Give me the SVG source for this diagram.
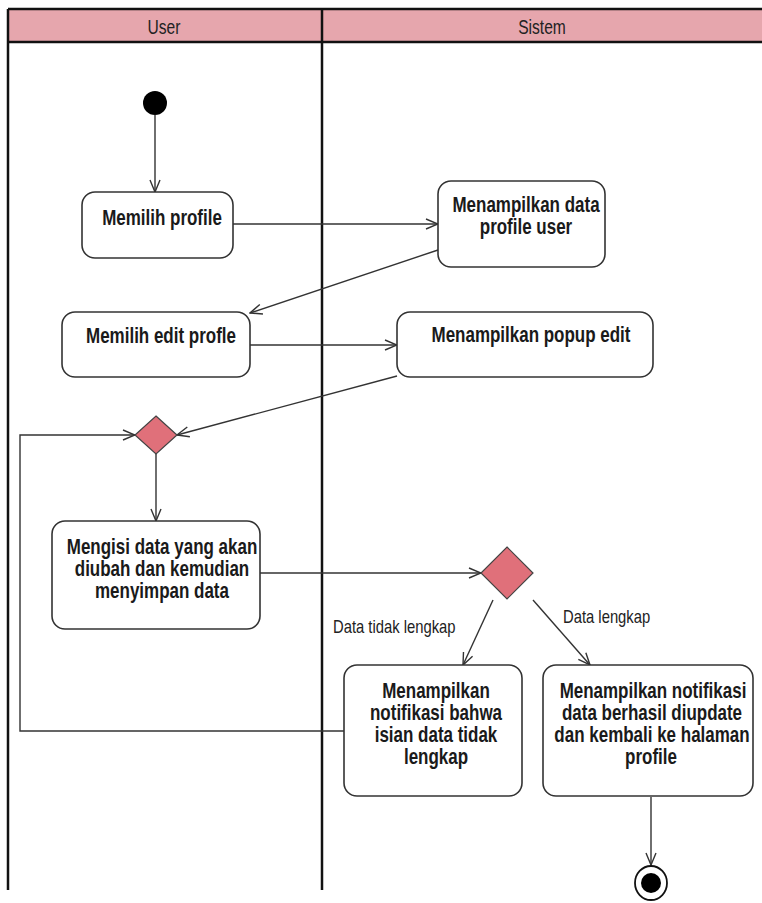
<svg xmlns="http://www.w3.org/2000/svg" width="762" height="903" viewBox="0 0 762 903">
  <style>
    .lane { stroke: #111; stroke-width: 2.5; fill: none; }
    .head { fill: #e6a6ad; }
    .hdtxt { font-family: "Liberation Sans", Arial, sans-serif; font-size: 20px; fill: #222; text-anchor: middle; }
    .act { fill: #fff; stroke: #333; stroke-width: 1.6; }
    .txt { font-family: "Liberation Sans", Arial, sans-serif; font-size: 21.5px; font-weight: bold; fill: #1a1a1a; text-anchor: middle; }
    .lbl { font-family: "Liberation Sans", Arial, sans-serif; font-size: 18.5px; fill: #222; }
    .dec { fill: #e0707a; stroke: #444; stroke-width: 1.2; }
    .flow { fill: none; stroke: #333; stroke-width: 1.4; }
  </style>
  <defs>
    <marker id="open" viewBox="0 0 14 12" refX="13" refY="6" markerWidth="14" markerHeight="12" markerUnits="userSpaceOnUse" orient="auto">
      <path d="M1,1 L13,6 L1,11" fill="none" stroke="#333" stroke-width="1.4"/>
    </marker>
  </defs>

  <rect width="762" height="903" fill="#fff"/>

  <!-- swimlanes -->
  <g id="swimlanes">
    <rect class="head" x="8" y="9" width="754" height="33"/>
    <line class="lane" x1="8" y1="9" x2="762" y2="9"/>
    <line class="lane" x1="8" y1="42" x2="762" y2="42"/>
    <line class="lane" x1="8" y1="9" x2="8" y2="890"/>
    <line class="lane" x1="322" y1="9" x2="322" y2="890"/>
    <text class="hdtxt" transform="translate(164 34) scale(0.78 1)">User</text>
    <text class="hdtxt" transform="translate(542 34) scale(0.78 1)">Sistem</text>
  </g>

  <!-- connectors -->
  <g id="connectors">
    <line class="flow" x1="155" y1="115" x2="155" y2="192" marker-end="url(#open)"/>
    <line class="flow" x1="233" y1="224" x2="438" y2="224" marker-end="url(#open)"/>
    <line class="flow" x1="438" y1="250" x2="250" y2="313" marker-end="url(#open)"/>
    <line class="flow" x1="250" y1="345" x2="397" y2="345" marker-end="url(#open)"/>
    <line class="flow" x1="397" y1="376" x2="177" y2="435" marker-end="url(#open)"/>
    <line class="flow" x1="156" y1="454" x2="156" y2="521" marker-end="url(#open)"/>
    <polyline class="flow" points="344,731 20,731 20,435 135,435" marker-end="url(#open)"/>
    <line class="flow" x1="260" y1="573" x2="481" y2="573" marker-end="url(#open)"/>
    <line class="flow" x1="493" y1="600" x2="463" y2="665" marker-end="url(#open)"/>
    <line class="flow" x1="533" y1="600" x2="590" y2="665" marker-end="url(#open)"/>
    <line class="flow" x1="651" y1="797" x2="651" y2="865" marker-end="url(#open)"/>
    <text class="lbl" transform="translate(333 633) scale(0.8 1)">Data tidak lengkap</text>
    <text class="lbl" transform="translate(563 623) scale(0.8 1)">Data lengkap</text>
  </g>

  <!-- nodes -->
  <g id="start">
    <circle cx="155" cy="103" r="12" fill="#000"/>
  </g>

  <g id="memilih-profile">
    <rect class="act" x="82" y="192" width="151" height="66" rx="13"/>
    <text class="txt" transform="translate(162 225) scale(0.79 1)">Memilih profile</text>
  </g>

  <g id="tampil-data-profile">
    <rect class="act" x="438" y="181" width="167" height="86" rx="13"/>
    <text class="txt" transform="translate(526 212) scale(0.79 1)">Menampilkan data</text>
    <text class="txt" transform="translate(526 234) scale(0.79 1)">profile user</text>
  </g>

  <g id="memilih-edit">
    <rect class="act" x="62" y="312" width="188" height="65" rx="13"/>
    <text class="txt" transform="translate(161 343) scale(0.79 1)">Memilih edit profle</text>
  </g>

  <g id="tampil-popup">
    <rect class="act" x="397" y="312" width="256" height="65" rx="13"/>
    <text class="txt" transform="translate(531 342) scale(0.79 1)">Menampilkan popup edit</text>
  </g>

  <g id="merge">
    <polygon class="dec" points="156,416 177,435 156,454 135,435"/>
  </g>

  <g id="mengisi-data">
    <rect class="act" x="52" y="521" width="208" height="108" rx="13"/>
    <text class="txt" transform="translate(162 554) scale(0.79 1)">Mengisi data yang akan</text>
    <text class="txt" transform="translate(162 576) scale(0.79 1)">diubah dan kemudian</text>
    <text class="txt" transform="translate(162 598) scale(0.79 1)">menyimpan data</text>
  </g>

  <g id="cek-data">
    <polygon class="dec" points="507,547 533,573 507,599 481,573"/>
  </g>

  <g id="notif-tidak-lengkap">
    <rect class="act" x="344" y="665" width="178" height="131" rx="13"/>
    <text class="txt" transform="translate(436 698) scale(0.79 1)">Menampilkan</text>
    <text class="txt" transform="translate(436 720) scale(0.79 1)">notifikasi bahwa</text>
    <text class="txt" transform="translate(436 742) scale(0.79 1)">isian data tidak</text>
    <text class="txt" transform="translate(436 764) scale(0.79 1)">lengkap</text>
  </g>

  <g id="notif-berhasil">
    <rect class="act" x="543" y="665" width="210" height="131" rx="13"/>
    <text class="txt" transform="translate(653 698) scale(0.79 1)">Menampilkan notifikasi</text>
    <text class="txt" transform="translate(652 720) scale(0.79 1)">data berhasil diupdate</text>
    <text class="txt" transform="translate(652 742) scale(0.79 1)">dan kembali ke halaman</text>
    <text class="txt" transform="translate(651 764) scale(0.79 1)">profile</text>
  </g>

  <g id="end">
    <ellipse cx="651" cy="883" rx="16" ry="17" fill="#fff" stroke="#111" stroke-width="1.8"/>
    <circle cx="651" cy="883" r="10" fill="#000"/>
  </g>
</svg>
